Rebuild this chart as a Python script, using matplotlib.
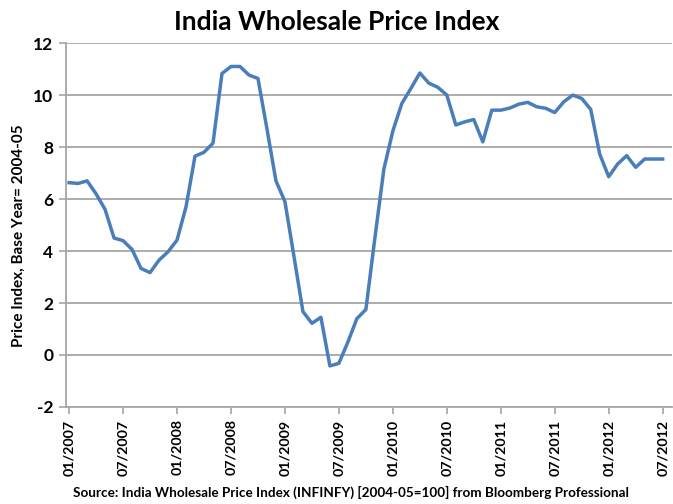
import matplotlib
matplotlib.use('Agg')
import numpy as np
import matplotlib.pyplot as plt

plt.rcParams['axes.unicode_minus'] = False

# monthly WPI inflation, 01/2007 .. 07/2012
months = ['01/2007', '07/2007', '01/2008', '07/2008', '01/2009', '07/2009',
          '01/2010', '07/2010', '01/2011', '07/2011', '01/2012', '07/2012']
wpi_2007 = [6.63, 6.6, 6.7, 6.2, 5.6, 4.5, 4.4, 4.06, 3.33, 3.17, 3.65, 3.97]
wpi_2008 = [4.42, 5.7, 7.65, 7.8, 8.15, 10.83, 11.1, 11.1, 10.77, 10.64, 8.7, 6.7]
wpi_2009 = [5.9, 3.8, 1.67, 1.22, 1.45, -0.42, -0.32, 0.5, 1.4, 1.75, 4.5, 7.15]
wpi_2010 = [8.62, 9.68, 10.25, 10.85, 10.46, 10.3, 10.0, 8.85, 8.97, 9.06, 8.2, 9.42]
wpi_2011 = [9.42, 9.5, 9.65, 9.72, 9.55, 9.49, 9.33, 9.74, 10.0, 9.87, 9.45, 7.73]
wpi_2012 = [6.86, 7.35, 7.67, 7.22, 7.54, 7.54, 7.54]

wpi = wpi_2007 + wpi_2008 + wpi_2009 + wpi_2010 + wpi_2011 + wpi_2012
idx = np.arange(len(wpi))

font = 'Lato'
grid_color = '#a6a6a6'

fig = plt.figure(figsize=(6.73, 5.04), dpi=100)
ax = fig.add_axes([0.098, 0.1925, 0.9, 0.722])

ax.plot(idx, wpi, color='#4a7ebb', linewidth=2.5, solid_joinstyle='round')

ax.set_ylim(-2, 12)
ax.set_yticks(range(-2, 13, 2))
ax.set_xlim(-0.35, len(wpi))
ax.set_xticks(idx[::6])
ax.set_xticklabels(months, rotation=90, fontsize=10.3, fontweight='bold', family=font)
for lab in ax.get_yticklabels():
    lab.set_fontsize(12.5)
    lab.set_fontweight('bold')
    lab.set_family(font)

ax.yaxis.grid(True, color=grid_color, linewidth=1.3)
ax.set_axisbelow(True)
for s in ['top', 'right']:
    ax.spines[s].set_visible(False)
ax.spines['left'].set_color(grid_color)
ax.spines['bottom'].set_color(grid_color)
ax.spines['left'].set_linewidth(1.3)
ax.spines['bottom'].set_linewidth(1.3)
ax.tick_params(axis='both', colors=grid_color, labelcolor='black', length=5, width=1.2)
ax.tick_params(axis='y', pad=4)
ax.tick_params(axis='x', pad=4)

ax.set_ylabel('Price Index, Base Year= 2004-05', fontsize=11, fontweight='bold',
              family=font)
ax.yaxis.set_label_coords(-0.066, 0.472)

fig.text(0.5, 0.956, 'India Wholesale Price Index', ha='center', va='center',
         fontsize=19, fontweight='bold', family=font)
fig.text(0.522, 0.022, 'Source: India Wholesale Price Index (INFINFY) [2004-05=100] from Bloomberg Professional',
         ha='center', va='center', fontsize=9.7, fontweight='bold', family=font)

fig.savefig('out.png', dpi=100)
